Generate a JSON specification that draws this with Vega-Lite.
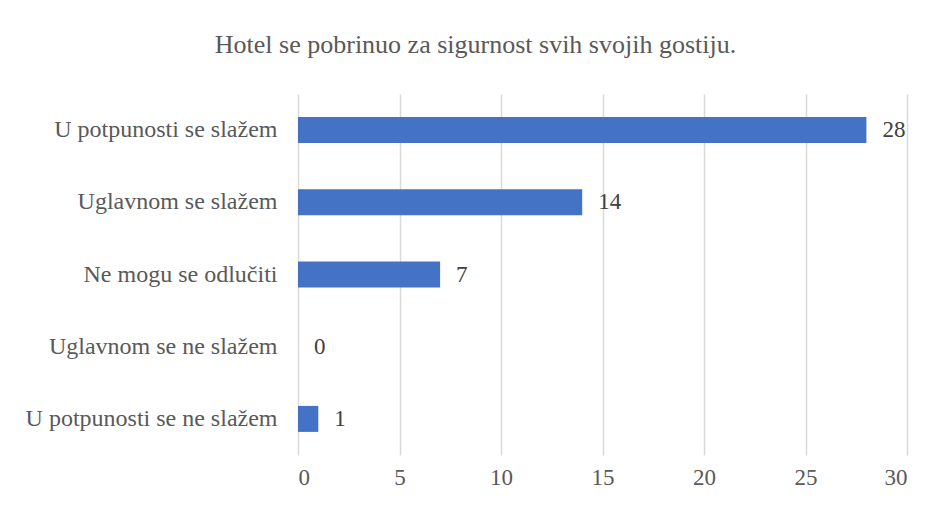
{
  "$schema": "https://vega.github.io/schema/vega-lite/v6.json",
  "width": 609,
  "height": 361,
  "autosize": {"type": "none"},
  "padding": {"left": 298, "top": 94, "right": 32, "bottom": 51},
  "background": "white",
  "title": {
    "text": "Hotel se pobrinuo za sigurnost svih svojih gostiju.",
    "font": "'Times New Roman', 'Liberation Serif', 'DejaVu Serif', serif",
    "fontSize": 26,
    "fontWeight": "normal",
    "color": "#595959",
    "anchor": "middle",
    "frame": "group",
    "dx": -127,
    "offset": 36
  },
  "data": {
    "values": [
      {"kategorija": "U potpunosti se slažem", "broj": 28},
      {"kategorija": "Uglavnom se slažem", "broj": 14},
      {"kategorija": "Ne mogu se odlučiti", "broj": 7},
      {"kategorija": "Uglavnom se ne slažem", "broj": 0},
      {"kategorija": "U potpunosti se ne slažem", "broj": 1}
    ]
  },
  "config": {
    "view": {"stroke": null},
    "font": "'Times New Roman', 'Liberation Serif', serif"
  },
  "encoding": {
    "y": {
      "field": "kategorija",
      "type": "nominal",
      "sort": null,
      "scale": {"paddingInner": 0.64, "paddingOuter": 0.32},
      "axis": {
        "title": null,
        "domain": false,
        "ticks": false,
        "labelFont": "'Times New Roman', 'Liberation Serif', serif",
        "labelFontSize": 24,
        "labelColor": "#595959",
        "labelPadding": 21,
        "labelLimit": 400
      }
    },
    "x": {
      "field": "broj",
      "type": "quantitative",
      "scale": {"domain": [0, 30], "nice": false},
      "axis": {
        "title": null,
        "values": [0, 5, 10, 15, 20, 25, 30],
        "domain": false,
        "ticks": false,
        "grid": true,
        "gridColor": "#d9d9d9",
        "gridWidth": 1.5,
        "labelFont": "'Times New Roman', 'Liberation Serif', serif",
        "labelFontSize": 23,
        "labelColor": "#595959",
        "labelPadding": 11
      }
    }
  },
  "layer": [
    {"mark": {"type": "bar", "color": "#4472C4"}},
    {
      "mark": {
        "type": "text",
        "align": "left",
        "baseline": "middle",
        "dx": 16,
        "font": "'Times New Roman', 'Liberation Serif', serif",
        "fontSize": 23,
        "color": "#404040"
      },
      "encoding": {"text": {"field": "broj", "type": "quantitative"}}
    }
  ]
}
